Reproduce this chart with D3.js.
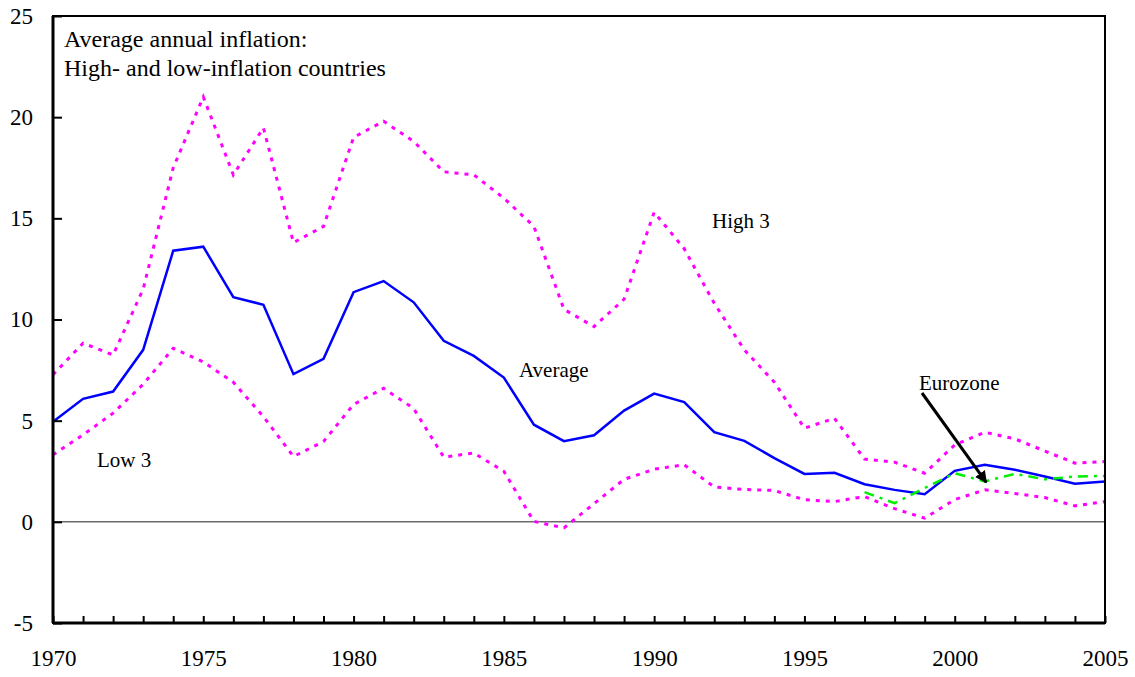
<!DOCTYPE html>
<html lang="en">
<head>
  <meta charset="UTF-8">
  <title>Average annual inflation</title>
  <style>
    body { margin: 0; background: #fff; }
    svg text { font-family: "Liberation Serif", "Times New Roman", serif; fill: #000; }
  </style>
</head>
<body>
  <svg width="1135" height="677" id="chart"></svg>
  <script src="https://cdn.jsdelivr.net/npm/d3@7/dist/d3.min.js"></script>
  <script>
    // data
    const years = d3.range(1970, 2006);
    const average = [4.95, 6.08, 6.44, 8.5, 13.4, 13.6, 11.1, 10.73, 7.3, 8.06,
      11.35, 11.9, 10.85, 8.95, 8.2, 7.13, 4.8, 3.99, 4.28, 5.5,
      6.34, 5.92, 4.43, 4.0, 3.15, 2.37, 2.42, 1.86, 1.58, 1.37,
      2.52, 2.82, 2.57, 2.24, 1.88, 1.99];
    const high3 = [7.27, 8.83, 8.25, 11.5, 17.5, 21.0, 17.15, 19.47, 13.8, 14.6,
      19.0, 19.8, 18.8, 17.3, 17.15, 16.0, 14.6, 10.5, 9.65, 11.0,
      15.3, 13.5, 10.8, 8.5, 6.9, 4.63, 5.12, 3.1, 2.95, 2.4,
      3.8, 4.43, 4.1, 3.5, 2.9, 2.98];
    const low3 = [3.31, 4.3, 5.37, 6.8, 8.58, 7.9, 6.9, 5.2, 3.23, 3.97,
      5.8, 6.6, 5.6, 3.2, 3.4, 2.5, 0.02, -0.3, 0.9, 2.1,
      2.6, 2.82, 1.72, 1.6, 1.55, 1.09, 1.0, 1.25, 0.65, 0.18,
      1.1, 1.58, 1.4, 1.2, 0.79, 1.0];
    const euroYears = d3.range(1997, 2006);
    const eurozone = [1.47, 0.92, 1.67, 2.4, 2.0, 2.37, 2.1, 2.24, 2.27];
    const yTicks = [-5, 0, 5, 10, 15, 20, 25];
    const xLabels = [1970, 1975, 1980, 1985, 1990, 1995, 2000, 2005];

    const svg = d3.select('#chart');
    const m = {left: 53, right: 1105, top: 16, bottom: 623};

    const x = d3.scaleLinear().domain([1970, 2005]).range([m.left, m.right]);
    const y = d3.scaleLinear().domain([-5, 25]).range([m.bottom, m.top]);

    // zero line
    svg.append('line')
        .attr('x1', m.left).attr('x2', m.right)
        .attr('y1', y(0)).attr('y2', y(0))
        .attr('stroke', '#222').attr('stroke-width', 1);

    const line = d3.line().x(d => x(d[0])).y(d => y(d[1]));

    svg.append('path')
        .datum(years.map((yr, i) => [yr, high3[i]]))
        .attr('d', line).attr('fill', 'none')
        .attr('stroke', '#ff00ff').attr('stroke-width', 3)
        .attr('stroke-dasharray', '4,6');
    svg.append('path')
        .datum(years.map((yr, i) => [yr, low3[i]]))
        .attr('d', line).attr('fill', 'none')
        .attr('stroke', '#ff00ff').attr('stroke-width', 3)
        .attr('stroke-dasharray', '4,6');
    svg.append('path')
        .datum(years.map((yr, i) => [yr, average[i]]))
        .attr('d', line).attr('fill', 'none')
        .attr('stroke', '#0000ff').attr('stroke-width', 2.5);
    svg.append('path')
        .datum(euroYears.map((yr, i) => [yr, eurozone[i]]))
        .attr('d', line).attr('fill', 'none')
        .attr('stroke', '#00ee00').attr('stroke-width', 2.5)
        .attr('stroke-dasharray', '10,6,3,6');

    // frame
    svg.append('rect')
        .attr('x', m.left).attr('y', m.top)
        .attr('width', m.right - m.left).attr('height', m.bottom - m.top)
        .attr('fill', 'none').attr('stroke', '#000').attr('stroke-width', 2);
    svg.append('line').attr('x1', m.left).attr('x2', m.left).attr('y1', m.top).attr('y2', m.bottom)
        .attr('stroke', '#000').attr('stroke-width', 3);
    svg.append('line').attr('x1', m.left).attr('x2', m.right).attr('y1', m.bottom).attr('y2', m.bottom)
        .attr('stroke', '#000').attr('stroke-width', 3);

    // y axis: ticks inward
    const yAxis = svg.append('g').attr('transform', `translate(${m.left},0)`)
        .call(d3.axisLeft(y).tickValues(yTicks).tickSize(-9).tickPadding(20).tickFormat(d => String(d)));
    yAxis.attr('font-family', null);
    yAxis.select('.domain').remove();
    yAxis.selectAll('line').attr('stroke-width', 2);
    yAxis.selectAll('text').attr('font-size', 23);

    // x axis: year ticks inward, labels every 5
    const xAxis = svg.append('g').attr('transform', `translate(0,${m.bottom})`)
        .call(d3.axisBottom(x).tickValues(years).tickSize(-7).tickPadding(27)
          .tickFormat(d => xLabels.includes(d) ? d : ''));
    xAxis.attr('font-family', null);
    xAxis.select('.domain').remove();
    xAxis.selectAll('line').attr('stroke-width', 2);
    xAxis.selectAll('text').attr('font-size', 23);

    // annotations
    const note = (tx, ty, s, fs) => svg.append('text').attr('x', tx).attr('y', ty)
        .attr('font-size', fs).text(s);
    note(64, 47, 'Average annual inflation:', 24);
    note(64, 76, 'High- and low-inflation countries', 24);
    note(712, 228, 'High 3', 21);
    note(519, 377, 'Average', 21);
    note(97, 467, 'Low 3', 21);
    note(919, 390, 'Eurozone', 21);

    // arrow
    svg.append('defs').append('marker')
        .attr('id', 'head').attr('viewBox', '0 0 10 10')
        .attr('refX', 9).attr('refY', 5)
        .attr('markerWidth', 4).attr('markerHeight', 4)
        .attr('orient', 'auto')
        .append('path').attr('d', 'M0,0L10,5L0,10Z').attr('fill', '#000');
    svg.append('line')
        .attr('x1', 922).attr('y1', 393)
        .attr('x2', x(2001.05)).attr('y2', y(1.95))
        .attr('stroke', '#000').attr('stroke-width', 3)
        .attr('marker-end', 'url(#head)');
  </script>
</body>
</html>
